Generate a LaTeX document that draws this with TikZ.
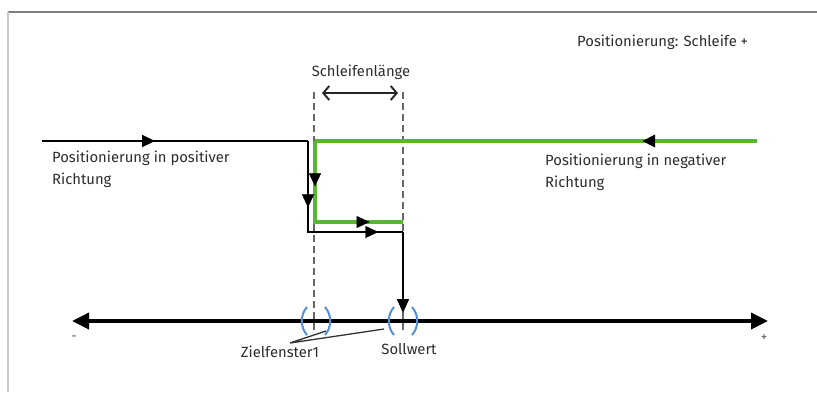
\documentclass[tikz,border=0pt]{standalone}
\usepackage{fontspec}
\setmainfont{Fira Sans}
\usetikzlibrary{arrows.meta,decorations.markings}
\definecolor{grn}{RGB}{88,182,50}
\definecolor{brk}{RGB}{84,144,214}
\definecolor{txt}{RGB}{45,45,45}
\tikzset{
  lbl/.style={font=\fontsize{14.8}{22}\selectfont, text=txt, inner sep=0pt, align=left},
  tipat/.style={postaction={decorate,decoration={markings,mark=at position #1 with {\arrow[black]{Triangle[length=13pt,width=12pt]}}}}},
  blackline/.style={draw=black, line width=1.8pt},
  greenline/.style={draw=grn, line width=3.6pt},
  dashline/.style={draw=black!60, line width=2.6pt, dash pattern=on 7pt off 4pt},
  axisline/.style={draw=black, line width=3.6pt, {Triangle[length=17pt,width=16pt]}-{Triangle[length=17pt,width=16pt]}},
  bracket/.style={draw=brk, line width=2pt},
  pointer/.style={draw=black!80, line width=1.3pt},
  sign/.style={font=\fontsize{13}{13}\selectfont, text=black!65, inner sep=0pt},
}
\begin{document}
\begin{tikzpicture}[x=1pt,y=-1pt]
\useasboundingbox (0,0) rectangle (817,392);
% frame
\draw[black!50, line width=1.8pt] (8,12) -- (817,12);
\draw[black!22, line width=2.2pt] (8,12) -- (8,392);

% title
\node[lbl, anchor=base west] (title) at (577,46) {Positionierung: Schleife +};

% coordinates
\coordinate (bstart) at (42,141);
\coordinate (bcorner1) at (308,141);
\coordinate (bcorner2) at (308,232);
\coordinate (bcorner3) at (403,232);
\coordinate (soll) at (403,313);
\coordinate (gstart) at (757,141);
\coordinate (gcorner1) at (315,141);
\coordinate (gcorner2) at (315,222);
\coordinate (gend) at (403,222);
\coordinate (dLtop) at (314,92);
\coordinate (dLbot) at (314,330);
\coordinate (dRtop) at (403,92);
\coordinate (dRbot) at (403,330);
\coordinate (axL) at (72,321);
\coordinate (axR) at (768,321);
\coordinate (slL) at (322,93);
\coordinate (slR) at (398,93);

% dashed lines
\draw[dashline] (dLtop) -- (dLbot);
\draw[dashline] (dRtop) -- (dRbot);

% loop length
\node[lbl] (sl) at (361,72) {Schleifenlänge};
\draw[black!85, line width=1.9pt, {Straight Barb[length=6pt,width=14pt]}-{Straight Barb[length=6pt,width=14pt]}] (slL) -- (slR);

% green path (negative direction)
\draw[greenline, tipat=0.26] (gstart) -- (gcorner1);
\draw[greenline] (gcorner1) -- (gcorner2) -- (gend);
\draw[draw=none, tipat=0.56] (gcorner1) -- (gcorner2);
\draw[draw=none, tipat=0.62] (gcorner2) -- (gend);

% black path (positive direction)
\draw[blackline, tipat=0.425] (bstart) -- (bcorner1);
\draw[blackline] (bcorner1) -- (bcorner2) -- (bcorner3);
\draw[draw=none, tipat=0.73] (bcorner1) -- (bcorner2);
\draw[draw=none, tipat=0.74] (bcorner2) -- (bcorner3);
\draw[blackline, -{Triangle[length=14pt,width=12pt]}] (bcorner3) -- (soll);

% axis
\draw[axisline] (axL) -- (axR);
\node[sign] (minus) at (74,338) {-};
\node[sign] (plus) at (764,338) {+};

% brackets
\draw[bracket] (307,307) .. controls (300,315) and (300,327) .. (307,335);
\draw[bracket] (325,307) .. controls (332,315) and (332,327) .. (325,335);
\draw[bracket] (394,307) .. controls (387,315) and (387,327) .. (394,335);
\draw[bracket] (412,307) .. controls (419,315) and (419,327) .. (412,335);

% labels
\node[lbl] (ziel) at (280,352) {Zielfenster1};
\node[lbl] (sollw) at (409,349) {Sollwert};
\coordinate (zapex) at (290,343);
\coordinate (zp1) at (326,331);
\coordinate (zp2) at (384,329);
\draw[pointer] (zp1) -- (zapex) -- (zp2);

\node[lbl, anchor=north west] (pos) at (52,151) {Positionierung in positiver\\Richtung};
\node[lbl, anchor=north west] (neg) at (545,154) {Positionierung in negativer\\Richtung};
\end{tikzpicture}
\end{document}
